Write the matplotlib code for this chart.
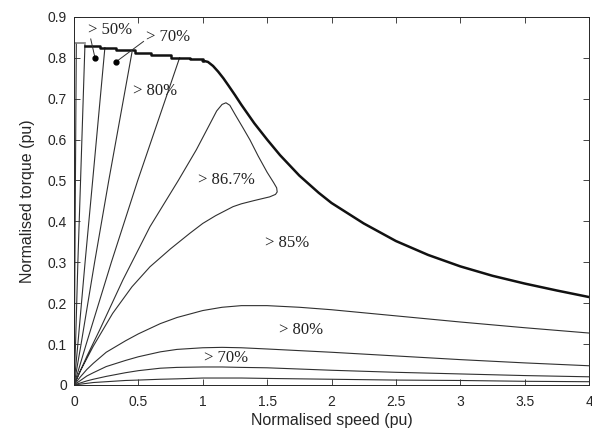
import matplotlib
matplotlib.use("Agg")
import matplotlib.pyplot as plt

# maximum torque envelope (flat part drawn as steps, then the falling part)
env_flat_x = [0.0, 0.085, 0.2, 0.33, 0.47, 0.6, 0.75, 0.9, 1.0]
env_flat_y = [0.835, 0.830, 0.825, 0.818, 0.812, 0.806, 0.800, 0.796, 0.793]
env_fall_x = [1.0, 1.04, 1.08, 1.12, 1.16, 1.2, 1.25, 1.3, 1.4, 1.5, 1.6, 1.75, 1.9, 2.0,
              2.25, 2.5, 2.75, 3.0, 3.25, 3.5, 3.75, 4.0]
env_fall_y = [0.793, 0.790, 0.780, 0.766, 0.750, 0.732, 0.709, 0.685, 0.640, 0.600, 0.562, 0.512,
              0.470, 0.445, 0.395, 0.352, 0.318, 0.290, 0.267, 0.248, 0.231, 0.215]

# contour branches rising from the origin up to the envelope
rise_x = [
    [0.0, 0.003, 0.007, 0.011, 0.018],
    [0.0, 0.012, 0.030, 0.051, 0.085],
    [0.0, 0.030, 0.086, 0.145, 0.240],
    [0.0, 0.055, 0.160, 0.270, 0.450],
    [0.0, 0.095, 0.290, 0.495, 0.820],
]
rise_y = [
    [0.0, 0.1, 0.3, 0.5, 0.835],
    [0.0, 0.1, 0.3, 0.5, 0.832],
    [0.0, 0.1, 0.3, 0.5, 0.825],
    [0.0, 0.1, 0.3, 0.5, 0.813],
    [0.0, 0.1, 0.3, 0.5, 0.800],
]

# > 86.7 % closed region
loop_x = [0.0, 0.1, 0.2, 0.38, 0.59, 0.81, 0.95, 1.05, 1.108, 1.15, 1.18, 1.21, 1.25, 1.31,
          1.367, 1.43, 1.5, 1.55, 1.574, 1.578, 1.565, 1.52, 1.4, 1.3, 1.235, 1.1, 1.0, 0.9,
          0.75, 0.59, 0.45, 0.3, 0.15, 0.05, 0.0]
loop_y = [0.0, 0.07, 0.135, 0.257, 0.387, 0.50, 0.575, 0.635, 0.670, 0.686, 0.690, 0.684,
          0.662, 0.630, 0.599, 0.560, 0.520, 0.495, 0.482, 0.472, 0.466, 0.460, 0.451, 0.443,
          0.436, 0.414, 0.395, 0.371, 0.333, 0.289, 0.240, 0.175, 0.095, 0.035, 0.0]

# low torque branches running out to 4 pu
low_x = [0.0, 0.05, 0.1, 0.15, 0.25, 0.4, 0.5, 0.67, 0.8, 1.0, 1.15, 1.3, 1.5, 1.75, 2.0,
         2.5, 3.0, 3.5, 4.0]
low_y = [
    [0.0, 0.002, 0.004, 0.006, 0.008, 0.011, 0.012, 0.014, 0.015, 0.017, 0.017, 0.017, 0.016,
     0.015, 0.014, 0.012, 0.011, 0.009, 0.008],
    [0.0, 0.005, 0.010, 0.014, 0.021, 0.030, 0.035, 0.041, 0.043, 0.044, 0.044, 0.043, 0.042,
     0.039, 0.036, 0.031, 0.027, 0.023, 0.020],
    [0.0, 0.011, 0.022, 0.030, 0.045, 0.060, 0.069, 0.081, 0.087, 0.091, 0.092, 0.091, 0.088,
     0.084, 0.080, 0.071, 0.062, 0.054, 0.047],
    [0.0, 0.020, 0.038, 0.053, 0.080, 0.108, 0.125, 0.150, 0.165, 0.182, 0.190, 0.194, 0.194,
     0.190, 0.184, 0.169, 0.154, 0.140, 0.127],
]

labels = ["> 50%", "> 70%", "> 80%", "> 86.7%", "> 85%", "> 80%", "> 70%"]
label_x = [0.11, 0.56, 0.455, 0.96, 1.48, 1.59, 1.01]
label_y = [0.868, 0.850, 0.719, 0.500, 0.347, 0.134, 0.066]

fig = plt.figure(figsize=(5.92, 4.3), dpi=100)
ax = fig.add_axes([0.125, 0.1047, 0.870, 0.856])

line_col = "#303030"
for xs, ys in zip(rise_x, rise_y):
    ax.plot(xs, ys, color=line_col, lw=0.8)
ax.plot(loop_x, loop_y, color=line_col, lw=0.8)
for ys in low_y:
    ax.plot(low_x, ys, color=line_col, lw=0.8)

ax.plot(env_flat_x[:2], env_flat_y[:1] * 2, color="#808080", lw=1.2)
ax.plot(env_flat_x[1:], env_flat_y[1:], color="#111111", lw=1.8, drawstyle="steps-post")
ax.plot(env_fall_x, env_fall_y, color="#111111", lw=1.8)

for txt, tx, ty in zip(labels, label_x, label_y):
    ax.text(tx, ty, txt, family="Liberation Serif", fontsize=12, color="#222222",
            ha="left", va="center")

# leader lines and dots for the two small regions
ax.plot([0.13, 0.163], [0.846, 0.80], color=line_col, lw=0.7)
ax.plot([0.54, 0.326], [0.840, 0.79], color=line_col, lw=0.7)
ax.plot([0.163, 0.326], [0.80, 0.79], "o", color="black", ms=3.5, ls="none")

ax.set_xlim(0, 4)
ax.set_ylim(0, 0.9)
ax.set_xticks([0, 0.5, 1, 1.5, 2, 2.5, 3, 3.5, 4])
ax.set_xticklabels(["0", "0.5", "1", "1.5", "2", "2.5", "3", "3.5", "4"])
ax.set_yticks([0, 0.1, 0.2, 0.3, 0.4, 0.5, 0.6, 0.7, 0.8, 0.9])
ax.set_yticklabels(["0", "0.1", "0.2", "0.3", "0.4", "0.5", "0.6", "0.7", "0.8", "0.9"])
ax.tick_params(direction="in", top=True, right=True, length=4, width=0.6,
               labelsize=10, colors="#262626")
ax.tick_params(axis="x", pad=7)
ax.tick_params(axis="y", pad=5)
for sp in ax.spines.values():
    sp.set_linewidth(0.7)
    sp.set_color("#262626")
ax.set_xlabel("Normalised speed (pu)", family="Liberation Sans", fontsize=11.5, color="#262626", labelpad=3)
ax.set_ylabel("Normalised torque (pu)", family="Liberation Sans", fontsize=11.5, color="#262626", labelpad=9)
for lab in ax.get_xticklabels() + ax.get_yticklabels():
    lab.set_family("Liberation Sans")

fig.savefig("out.png", dpi=100)
